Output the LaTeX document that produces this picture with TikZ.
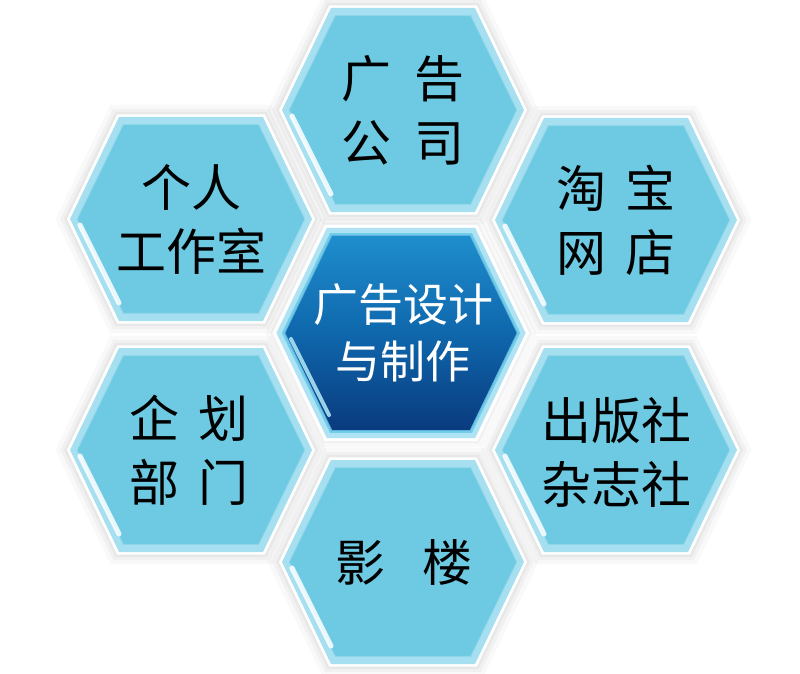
\documentclass[tikz,border=0pt]{standalone}
\usepackage{fontspec}
\newfontfamily\cjk{Noto Sans CJK SC}
\definecolor{cellfill}{HTML}{6DCAE2}
\definecolor{celledge}{HTML}{A6E0F0}
\definecolor{cellline}{HTML}{8ED6EA}
\definecolor{ctrtop}{HTML}{1E8ECD}
\definecolor{ctrmid}{HTML}{0F67AC}
\definecolor{ctrbot}{HTML}{0A3A7E}
\definecolor{ctrring}{HTML}{6FCDEA}
\definecolor{gaptone}{HTML}{F4F6F7}
\def\hexpath{(-121,0) -- (-72,-102) -- (72,-102) -- (121,0) -- (72,102) -- (-72,102) -- cycle}
\newcommand\hexshadow[2]{%
  \begin{scope}[shift={(#1,#2)}]
    \fill[black,opacity=0.025,scale=1.12] \hexpath;
    \fill[black,opacity=0.03,scale=1.08] \hexpath;
    \fill[black,opacity=0.035,scale=1.05] \hexpath;
  \end{scope}}
\newcommand\outercell[2]{%
  \begin{scope}[shift={(#1,#2)}]
    \fill[white,scale=1.025] \hexpath;
    \fill[celledge] \hexpath;
    \fill[cellfill,xscale=0.94,yscale=0.925] \hexpath;
    \draw[cellline,line width=0.8pt,xscale=0.94,yscale=0.925] \hexpath;
    \draw[white,opacity=0.85,line width=5pt,line cap=round] (-111,6) -- (-72,84);
  \end{scope}}
\tikzset{
  celltext/.style={font=\cjk\fontsize{50}{64}\selectfont, text=black, align=center, inner sep=0pt},
  ctrtext/.style={font=\cjk\fontsize{45}{57}\selectfont, text=white, align=center, inner sep=0pt}
}
\begin{document}
\begin{tikzpicture}[x=1pt,y=-1pt]
\useasboundingbox (0,0) rectangle (800,674);
\fill[white] (0,0) rectangle (800,674);
% soft shadows
\hexshadow{403}{110}
\hexshadow{191}{219}
\hexshadow{616}{220}
\hexshadow{401}{333}
\hexshadow{191}{450}
\hexshadow{616}{450}
\hexshadow{403}{562}
% outer cells
\outercell{403}{110}
\outercell{191}{219}
\outercell{616}{220}
\outercell{191}{450}
\outercell{616}{450}
\outercell{403}{562}
% center cell
\begin{scope}[shift={(401,333)}]
  \fill[white,scale=1.06] \hexpath;
  \fill[ctrring,opacity=0.55,scale=1.03] \hexpath;
  \fill[ctrring,xscale=0.985,yscale=0.98] \hexpath;
  \shade[top color=ctrtop,bottom color=ctrbot,middle color=ctrmid,xscale=0.96,yscale=0.955] \hexpath;
  \draw[ctrtop!70!white,line width=0.8pt,xscale=0.96,yscale=0.955] \hexpath;
  \draw[ctrring!60!white,opacity=0.9,line width=4pt,line cap=round] (-110,6) -- (-72,82);
\end{scope}
% texts
\node[celltext] (adco) at (403,110) {广\hspace{0.45em}告\\公\hspace{0.45em}司};
\node[celltext] (studio) at (191,219) {个人\\工作室};
\node[celltext] (taobao) at (616,220) {淘\hspace{0.4em}宝\\网\hspace{0.4em}店};
\node[celltext] (plan) at (189,450) {企\hspace{0.4em}划\\部\hspace{0.4em}门};
\node[celltext] (press) at (616,452) {出版社\\杂志社};
\node[celltext] (photo) at (404,562) {影\hspace{0.75em}楼};
\node[ctrtext] (center) at (403,333) {广告设计\\与制作};
\end{tikzpicture}
\end{document}
